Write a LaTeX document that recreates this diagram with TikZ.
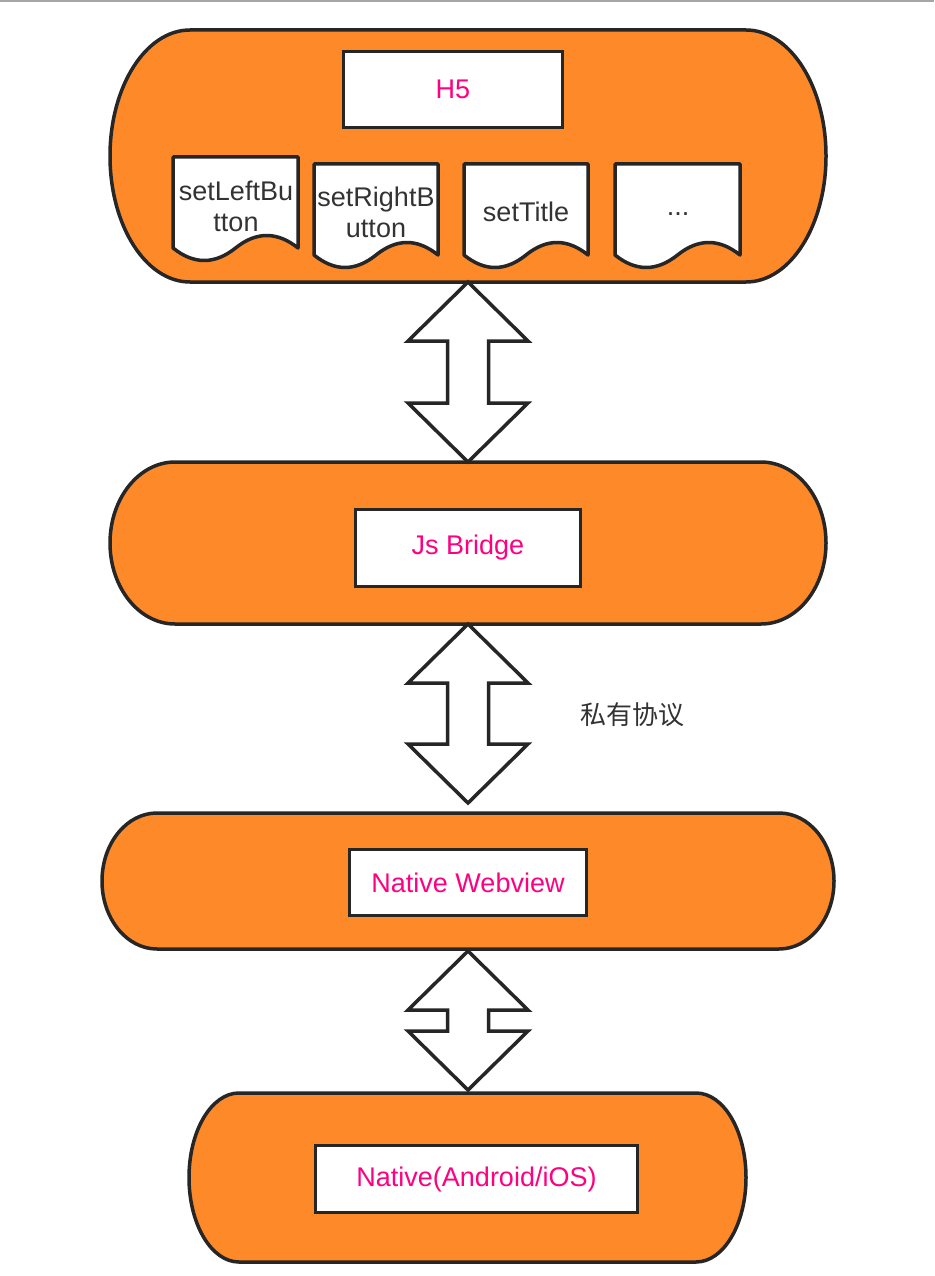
\documentclass[tikz,border=0pt]{standalone}
\usepackage{fontspec}
\setmainfont{Liberation Sans}
\newfontfamily\cjk{Noto Sans CJK SC}
\usetikzlibrary{calc}
\definecolor{orangefill}{RGB}{254,137,41}
\definecolor{strokec}{RGB}{38,38,38}
\definecolor{pinktext}{RGB}{255,0,128}
\definecolor{labeltext}{RGB}{51,51,51}
\tikzset{
  container/.style={draw=strokec,fill=orangefill,line width=3.5pt,line join=round},
  inbox/.style={draw=strokec,fill=white,line width=3.5pt,inner sep=0pt,text=pinktext,font=\fontsize{27}{31}\selectfont},
  docpath/.style={draw=strokec,fill=white,line width=3.5pt,line join=round},
  doclabel/.style={text=labeltext,align=center,inner sep=0pt,font=\fontsize{27}{31}\selectfont},
  blockarrow/.style={draw=strokec,fill=white,line width=3.5pt,line join=miter},
}
% pill container: x0, y0(top), x1, y1(bottom), rx, name  (y given positive downward)
\newcommand{\pillbox}[6]{%
  \draw[container] (#1+#5,-#2) -- (#3-#5,-#2)
    arc[start angle=90,end angle=-90,x radius=#5,y radius={(#4-#2)/2}]
    -- (#1+#5,-#4)
    arc[start angle=270,end angle=90,x radius=#5,y radius={(#4-#2)/2}] -- cycle;
  \coordinate (#6-n) at ({(#1+#3)/2},-#2);
  \coordinate (#6-s) at ({(#1+#3)/2},-#4);
}
% document shape: x0, top, x1, side end, amplitude
\newcommand{\docshape}[5]{%
  \draw[docpath] (#1,-#2) -- (#3,-#2) -- (#3,-#4)
    .. controls ({#1+5*(#3-#1)/6},{-#4+4*#5/3}) and ({#1+2*(#3-#1)/3},{-#4+4*#5/3}) .. ({#1+(#3-#1)/2},-#4)
    .. controls ({#1+(#3-#1)/3},{-#4-4*#5/3}) and ({#1+(#3-#1)/6},{-#4-4*#5/3}) .. (#1,-#4) -- cycle;
}
% double block arrow between two named tips
\newcommand{\dblarrow}[3]{%
  \draw[blockarrow] (#1) -- ($(#1)+(60,-#3)$) -- ($(#1)+(20.5,-#3)$) -- ($(#2)+(20.5,#3)$)
    -- ($(#2)+(60,#3)$) -- (#2) -- ($(#2)+(-60,#3)$) -- ($(#2)+(-20.5,#3)$)
    -- ($(#1)+(-20.5,-#3)$) -- ($(#1)+(-60,-#3)$) -- cycle;
}
\begin{document}
\begin{tikzpicture}[x=1pt,y=1pt]
\useasboundingbox (0,0) rectangle (934,-1276);
\fill[white] (0,0) rectangle (934,-1276);
\fill[black!35] (0,0) rectangle (934,-2.5);

% containers
\pillbox{110}{30}{826}{282}{80}{b1}
\pillbox{110}{462}{826}{624}{65}{b2}
\pillbox{102}{813}{834}{949}{55}{b3}
\pillbox{189}{1093}{746}{1262}{50}{b4}

% inner boxes
\node[inbox,minimum width=219pt,minimum height=76pt] (h5) at (453,-89.5) {H5};
\node[inbox,minimum width=225pt,minimum height=77pt] (jsb) at (468,-548) {Js Bridge};
\node[inbox,minimum width=237pt,minimum height=66pt] (nwv) at (468,-882.5) {Native Webview};
\node[inbox,minimum width=322pt,minimum height=67pt] (nat) at (476.5,-1179) {Native(Android/iOS)};

% documents
\docshape{173}{157}{298}{248}{12.5}
\docshape{314}{164}{438}{255}{12.5}
\docshape{464}{164}{588}{255}{12.5}
\docshape{615}{164}{740}{255}{12.5}
\node[doclabel] (d1) at (236,-206) {setLeftBu\\tton};
\node[doclabel] (d2) at (376,-212) {setRightB\\utton};
\node[doclabel] (d3) at (526,-212) {setTitle};
\node[doclabel] (d4) at (678,-214) {...};

% arrows
\coordinate (a1t) at (468,-282);
\coordinate (a1b) at (468,-462);
\coordinate (a2t) at (468,-624);
\coordinate (a2b) at (468,-803);
\coordinate (a3t) at (468,-951);
\coordinate (a3b) at (468,-1090);
\dblarrow{a1t}{a1b}{59}
\dblarrow{a2t}{a2b}{59}
\dblarrow{a3t}{a3b}{59}

\node[text=labeltext,inner sep=0pt,font=\cjk\fontsize{26}{30}\selectfont] (proto) at (632,-715) {私有协议};
\end{tikzpicture}
\end{document}
